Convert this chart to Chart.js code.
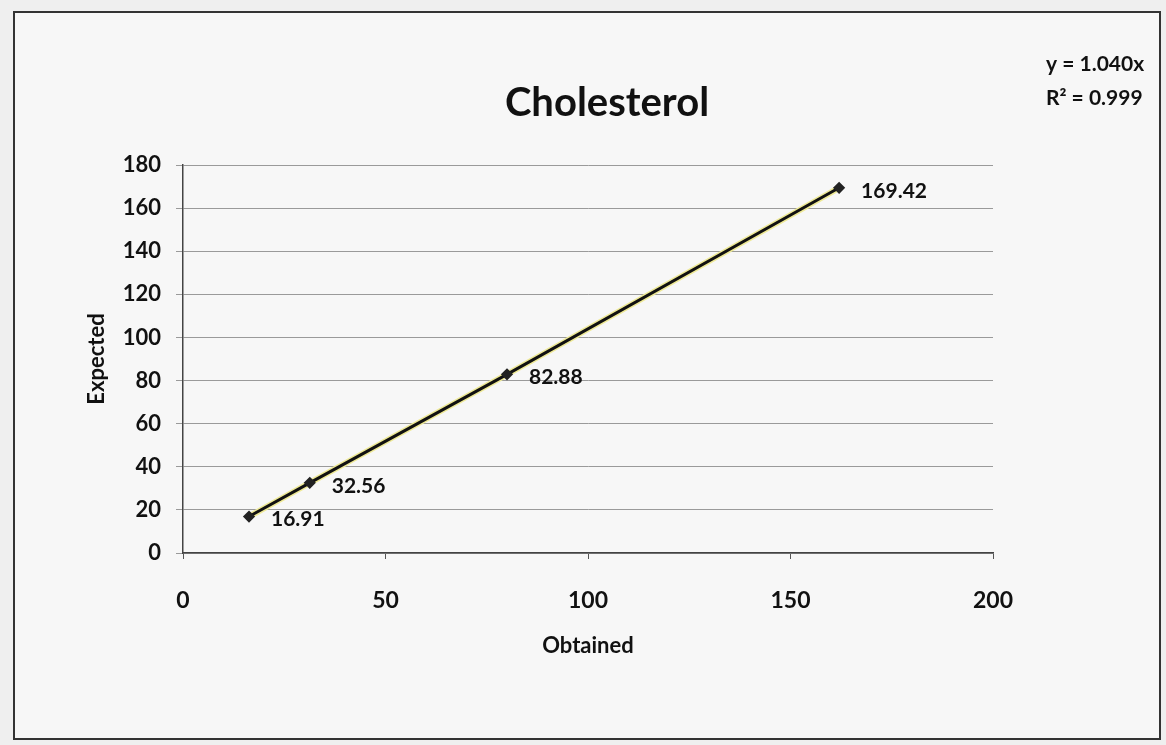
<!DOCTYPE html>
<html>
<head>
<meta charset="utf-8">
<script src="https://cdn.jsdelivr.net/npm/chart.js@4.4.1/dist/chart.umd.min.js"></script>
<style>
  html, body { margin: 0; padding: 0; background: #efefef; }
  #wrap { width: 1166px; height: 745px; }
</style>
</head>
<body>
<div id="wrap"><canvas id="cholChart" width="1166" height="745"></canvas></div>
<script>
// values
const obtained = [16.3, 31.3, 80.0, 162.0];
const expected = [16.91, 32.56, 82.88, 169.42];
const xTicks = [0, 50, 100, 150, 200];
const yTicks = [0, 20, 40, 60, 80, 100, 120, 140, 160, 180];
const trendText = ['y = 1.040x', 'R\u00B2 = 0.999'];

const points = obtained.map((x, i) => ({ x: x, y: expected[i] }));
const boldFont = size => ({ family: 'Lato, "Open Sans", sans-serif', size: size, weight: 'bold' });

// frame, title, trendline text
const decor = {
    id: 'decor',
    beforeDraw(chart) {
        const ctx = chart.ctx;
        ctx.save();
        ctx.fillStyle = '#f7f7f7';
        ctx.fillRect(14, 12, 1146, 727);
        ctx.strokeStyle = '#333';
        ctx.lineWidth = 2;
        ctx.strokeRect(14, 12, 1146, 727);
        ctx.restore();
    },
    afterDraw(chart) {
        const ctx = chart.ctx;
        ctx.save();
        ctx.fillStyle = '#111';
        ctx.font = 'bold 40px Lato, "Open Sans", sans-serif';
        ctx.textAlign = 'center';
        ctx.textBaseline = 'middle';
        ctx.fillText('Cholesterol', 607, 103);
        ctx.font = 'bold 21px Lato, "Open Sans", sans-serif';
        ctx.textAlign = 'left';
        trendText.forEach((t, i) => ctx.fillText(t, 1046, 64 + i * 34));
        ctx.restore();
    }
};

// value labels right of each point
const valueLabels = {
    id: 'valueLabels',
    afterDatasetsDraw(chart) {
        const ctx = chart.ctx;
        const meta = chart.getDatasetMeta(1);
        ctx.save();
        ctx.fillStyle = '#111';
        ctx.font = 'bold 21px Lato, "Open Sans", sans-serif';
        ctx.textAlign = 'left';
        ctx.textBaseline = 'middle';
        meta.data.forEach((el, i) => {
            ctx.fillText(expected[i].toFixed(2), el.x + 22, el.y + 3);
        });
        ctx.restore();
    }
};

new Chart(document.getElementById('cholChart'), {
    type: 'scatter',
    data: {
        datasets: [
            {
                // yellow highlight under the line
                data: points,
                order: 2,
                showLine: true,
                borderColor: '#eee996',
                borderWidth: 6,
                pointRadius: 0
            },
            {
                data: points,
                order: 1,
                showLine: true,
                borderColor: '#111',
                borderWidth: 3,
                pointStyle: 'rectRot',
                pointRadius: 4,
                pointBackgroundColor: '#222',
                pointBorderColor: '#222'
            }
        ]
    },
    options: {
        responsive: false,
        animation: false,
        layout: { padding: { left: 80, right: 173, top: 165, bottom: 82 } },
        scales: {
            x: {
                type: 'linear',
                min: 0,
                max: 200,
                afterBuildTicks: axis => { axis.ticks = xTicks.map(v => ({ value: v })); },
                afterFit: axis => { axis.height = 110; },
                ticks: { color: '#111', font: boldFont(23), padding: 28 },
                grid: { drawOnChartArea: false, drawTicks: true, tickLength: 6, color: '#555' },
                border: { color: '#444', width: 1.5 },
                title: { display: true, text: 'Obtained', color: '#111', font: boldFont(22), padding: { top: 22, bottom: 4 } }
            },
            y: {
                type: 'linear',
                min: 0,
                max: 180,
                afterBuildTicks: axis => { axis.ticks = yTicks.map(v => ({ value: v })); },
                afterFit: axis => { axis.width = 103; },
                ticks: { color: '#111', font: boldFont(22), padding: 15 },
                grid: { color: '#9a9a9a', lineWidth: 1, tickLength: 7 },
                border: { color: '#444', width: 1.5 },
                title: { display: true, text: 'Expected', color: '#111', font: boldFont(22), padding: { top: 4, bottom: 4 } }
            }
        },
        plugins: {
            legend: { display: false },
            tooltip: { enabled: false }
        }
    },
    plugins: [decor, valueLabels]
});
</script>
</body>
</html>
